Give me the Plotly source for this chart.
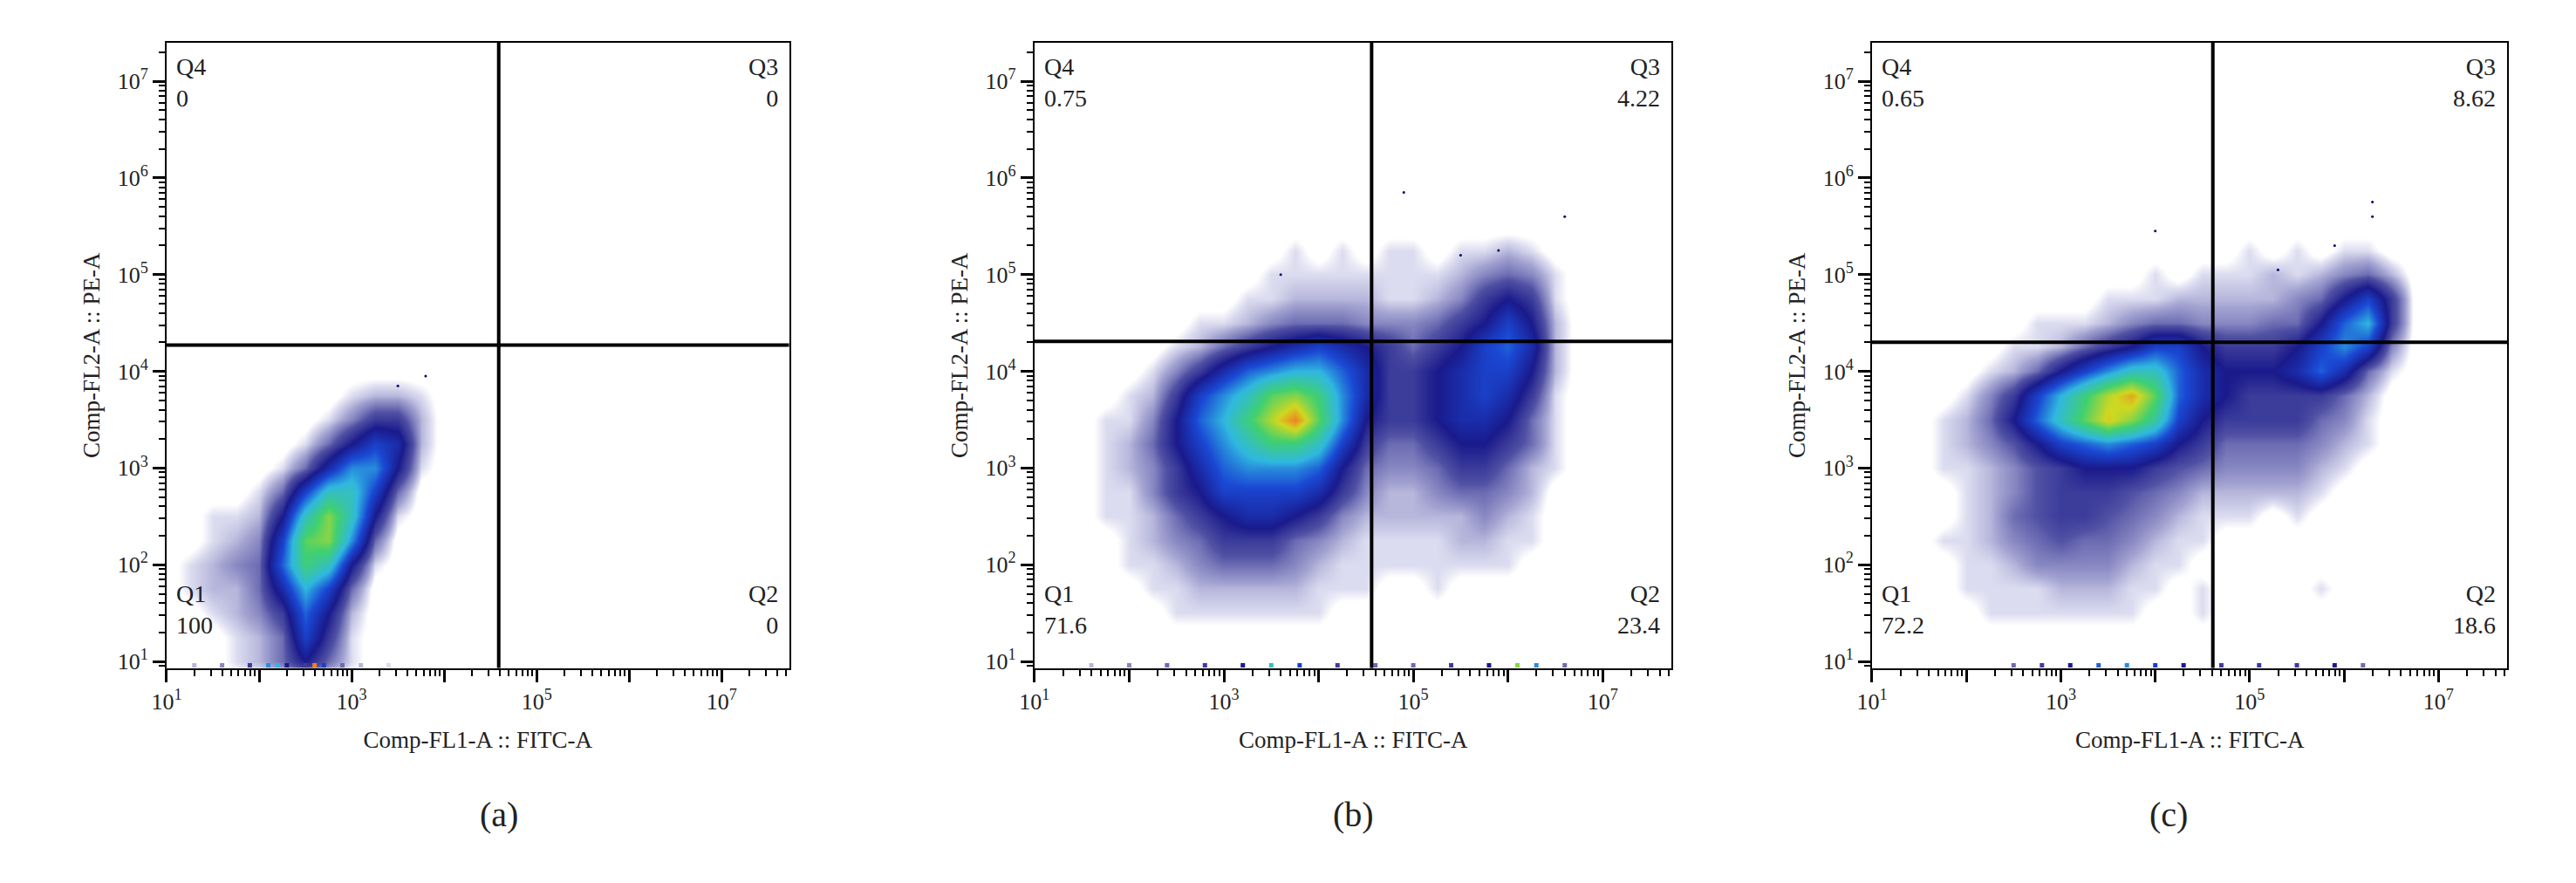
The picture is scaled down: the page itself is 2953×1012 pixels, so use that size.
import numpy as np
import plotly.graph_objects as go

# ── Data (log10 units) ───────────────────────────────────────────────────────
panel_letters = ["(a)", "(b)", "(c)"]
quad_x = [4.59, 4.56, 4.61]          # vertical gate, log10
quad_y = [4.27, 4.31, 4.30]          # horizontal gate, log10
q1_vals = ["100", "71.6", "72.2"]
q2_vals = ["0", "23.4", "18.6"]
q3_vals = ["0", "4.22", "8.62"]
q4_vals = ["0", "0.75", "0.65"]

# panel (a) density grid
a_x = [1.25, 1.5, 1.75, 2.0, 2.25, 2.5, 2.75, 3.0, 3.25, 3.5, 3.75]
a_y = [1.0, 1.25, 1.5, 1.75, 2.0, 2.25, 2.5, 2.75, 3.0, 3.25, 3.5, 3.75]
a_z = [
    [0, 0, 0.3, 0.5, 1, 2, 1, 0.3, 0, 0, 0],
    [0, 0, 0.3, 0.5, 1, 3, 1.5, 0.3, 0, 0, 0],
    [0, 0.3, 0.5, 0.8, 1.5, 3.5, 2, 0.5, 0, 0, 0],
    [0.3, 0.5, 0.5, 1, 2.5, 4.5, 3, 1, 0, 0, 0],
    [0.3, 0.5, 0.8, 1, 3.5, 6, 5, 2, 0.3, 0, 0],
    [0, 0.3, 0.5, 0.8, 3, 6.5, 7, 4, 1, 0, 0],
    [0, 0.3, 0.3, 0.5, 2, 5, 7, 5, 2, 0.3, 0],
    [0, 0, 0, 0.3, 1, 3, 5, 5, 3, 1, 0],
    [0, 0, 0, 0, 0.3, 1, 2.5, 4, 4, 2, 0.3],
    [0, 0, 0, 0, 0, 0.3, 1, 2, 3, 2.5, 0.5],
    [0, 0, 0, 0, 0, 0, 0.3, 0.8, 1.5, 1.5, 0.5],
    [0, 0, 0, 0, 0, 0, 0, 0.3, 0.5, 0.5, 0.3],
]

# panels (b) and (c) share a grid
bc_x = [1.75, 2.0, 2.25, 2.5, 2.75, 3.0, 3.25, 3.5, 3.75, 4.0, 4.25,
        4.5, 4.75, 5.0, 5.25, 5.5, 5.75, 6.0, 6.25, 6.5, 6.75]
bc_y = [1.5, 1.75, 2.0, 2.25, 2.5, 2.75, 3.0, 3.25, 3.5, 3.75, 4.0,
        4.25, 4.5, 4.75, 5.0, 5.25]
b_z = [
    [0, 0, 0, 0.3, 0.3, 0.3, 0.3, 0.3, 0.3, 0.3, 0, 0, 0, 0, 0, 0, 0, 0, 0, 0, 0],
    [0, 0, 0.3, 0.3, 0.5, 0.5, 0.5, 0.5, 0.5, 0.3, 0.3, 0.3, 0, 0, 0.3, 0, 0, 0, 0, 0, 0],
    [0, 0.3, 0.3, 0.5, 0.8, 1, 1, 1, 0.8, 0.5, 0.3, 0.3, 0.3, 0.3, 0.3, 0.3, 0.3, 0.3, 0, 0, 0],
    [0, 0.3, 0.5, 0.8, 1, 1.5, 1.5, 1.5, 1, 0.8, 0.5, 0.3, 0.3, 0.3, 0.3, 0.5, 0.5, 0.3, 0.3, 0, 0],
    [0.3, 0.3, 0.5, 1, 1.5, 2, 2.5, 2.5, 2, 1.5, 0.8, 0.5, 0.5, 0.5, 0.5, 0.5, 0.8, 0.5, 0.3, 0, 0],
    [0.3, 0.3, 0.8, 1.5, 2, 3, 3, 3, 3, 2.5, 1.5, 0.8, 0.5, 0.5, 0.8, 1, 1, 0.8, 0.5, 0, 0],
    [0.3, 0.5, 0.8, 1.5, 2.5, 3.5, 4, 4, 4, 3.5, 2, 1, 0.8, 0.8, 1, 1.5, 1.5, 1, 0.5, 0.3, 0],
    [0.3, 0.5, 1, 2, 3, 4, 5, 6, 6, 5, 3, 1.5, 1, 1, 1.5, 2, 2, 1.5, 1, 0.3, 0],
    [0.3, 0.3, 0.8, 2, 3.5, 4.5, 6, 7.5, 9, 6.5, 4, 2, 1.5, 1.5, 2, 2.5, 2.5, 2, 1, 0.3, 0],
    [0, 0.3, 0.5, 1.5, 3, 4, 5, 6.5, 7, 6, 4, 2.5, 1.5, 1.5, 2, 2.5, 3, 2.5, 1.5, 0.3, 0],
    [0, 0, 0.3, 0.8, 1.5, 2.5, 3.5, 4, 4.5, 4.5, 3.5, 2.5, 1.5, 1.5, 2, 2.5, 3, 3, 2, 0.5, 0],
    [0, 0, 0, 0.3, 0.5, 1, 1.5, 2, 2.5, 3, 2.5, 2, 1.5, 1, 1.5, 2, 3, 3.5, 2.5, 0.5, 0],
    [0, 0, 0, 0, 0.3, 0.3, 0.5, 0.8, 1, 1, 1, 0.8, 0.8, 0.8, 1, 1.5, 2, 3, 2, 0.5, 0],
    [0, 0, 0, 0, 0, 0, 0.3, 0.3, 0.5, 0.5, 0.5, 0.5, 0.3, 0.3, 0.5, 0.8, 1.5, 2, 1.5, 0.3, 0],
    [0, 0, 0, 0, 0, 0, 0, 0.3, 0.3, 0.3, 0.3, 0.3, 0.3, 0.3, 0.3, 0.5, 0.8, 1, 0.8, 0.3, 0],
    [0, 0, 0, 0, 0, 0, 0, 0, 0.3, 0, 0.3, 0, 0.3, 0.3, 0, 0.3, 0.3, 0.5, 0.3, 0, 0],
]
c_z = [
    [0, 0, 0.3, 0.3, 0.3, 0.3, 0.3, 0.3, 0.3, 0, 0, 0.3, 0, 0, 0, 0, 0, 0, 0, 0, 0],
    [0, 0.3, 0.3, 0.3, 0.3, 0.5, 0.5, 0.5, 0.3, 0.3, 0, 0.3, 0, 0, 0, 0, 0.3, 0, 0, 0, 0],
    [0, 0.3, 0.3, 0.5, 0.8, 0.8, 0.8, 0.8, 0.5, 0.3, 0.3, 0, 0, 0, 0, 0, 0, 0, 0, 0, 0],
    [0.3, 0.3, 0.5, 0.8, 1, 1.2, 1, 1, 0.8, 0.5, 0.3, 0.3, 0, 0, 0, 0, 0, 0, 0, 0, 0],
    [0, 0.3, 0.5, 1, 1.2, 1.5, 1.5, 1.2, 1, 0.8, 0.5, 0.3, 0.3, 0.3, 0, 0.3, 0, 0, 0, 0, 0],
    [0, 0.3, 0.5, 0.8, 1.2, 1.5, 1.5, 1.5, 1.2, 1, 0.8, 0.5, 0.5, 0.5, 0.5, 0.5, 0.3, 0, 0, 0, 0],
    [0.3, 0.3, 0.5, 0.8, 1.2, 1.5, 2, 2, 2, 1.5, 1.2, 1, 0.8, 0.8, 0.8, 0.8, 0.5, 0.3, 0, 0, 0],
    [0.3, 0.5, 0.8, 1.2, 2, 3, 3.5, 4, 3.5, 3, 2, 1.5, 1, 1, 1, 1, 0.8, 0.5, 0.3, 0, 0],
    [0.3, 0.5, 1, 2, 3.5, 5, 6.5, 8, 7, 5.5, 3, 2, 1.5, 1.5, 1.5, 1.5, 1, 0.8, 0.3, 0, 0],
    [0, 0.3, 0.8, 1.5, 3, 4.5, 6, 7.5, 8.5, 6.5, 3.5, 2.5, 2, 1.5, 1.5, 1.5, 1.5, 1, 0.5, 0, 0],
    [0, 0, 0.3, 0.5, 1, 2, 3, 4, 5, 5, 3.5, 2.5, 2, 2, 2, 2.5, 3.5, 2.5, 1, 0.3, 0],
    [0, 0, 0, 0.3, 0.3, 0.5, 1, 1.5, 2, 3, 3, 2, 1.5, 1.5, 1.5, 2, 3, 4, 3, 0.8, 0],
    [0, 0, 0, 0, 0.3, 0.3, 0.3, 0.5, 0.8, 1, 1, 0.8, 0.8, 0.8, 1, 1, 2, 3.5, 4.5, 1.5, 0],
    [0, 0, 0, 0, 0, 0, 0, 0.3, 0.3, 0.3, 0.5, 0.5, 0.5, 0.5, 0.5, 0.8, 1, 2, 3, 1.5, 0],
    [0, 0, 0, 0, 0, 0, 0, 0, 0, 0.3, 0, 0.3, 0.3, 0.3, 0.5, 0.3, 0.5, 0.8, 1, 0.5, 0],
    [0, 0, 0, 0, 0, 0, 0, 0, 0, 0, 0, 0, 0, 0.3, 0, 0.3, 0, 0.3, 0.3, 0, 0],
]

# events piled on the y-axis floor
floor_x = [
    [1.3, 1.6, 1.9, 2.1, 2.2, 2.3, 2.5, 2.6, 2.7, 2.9, 3.1, 3.4],
    [1.6, 2.0, 2.4, 2.8, 3.2, 3.5, 3.8, 4.2, 4.6, 5.0, 5.4, 5.8, 6.1, 6.3, 6.6],
    [2.5, 2.8, 3.1, 3.4, 3.7, 4.0, 4.3, 4.7, 5.1, 5.5, 5.9, 6.2],
]
floor_v = [
    [0.5, 0.8, 1.5, 4, 4.5, 2, 1.5, 9, 3, 1, 0.5, 0.3],
    [0.5, 0.8, 1, 1.5, 2, 5, 3, 1.5, 1, 1, 1.5, 2, 7, 4, 1],
    [1, 1.5, 2, 3.5, 4, 3, 2, 1.5, 1.5, 1.5, 2, 1],
]

# isolated outliers
out_x = [[3.8, 3.5], [4.9, 6.6, 5.5, 3.6, 5.9], [6.3, 5.9, 4.0, 6.3, 5.3]]
out_y = [[3.95, 3.85], [5.85, 5.6, 5.2, 5.0, 5.25], [5.6, 5.3, 5.45, 5.75, 5.05]]

# ── Figure ───────────────────────────────────────────────────────────────────
x_domains = [[0.0562, 0.2994], [0.3952, 0.6441], [0.7223, 0.9705]]
y_domain = [0.246, 0.9595]
x_range = [1.0, 7.73]
y_range = [0.93, 7.4]
font = "Liberation Serif"
ink = "#222"

cscale = [[0, "white"], [0.015, "white"], [0.03, "#dcdcf0"], [0.06, "#a4a4d2"],
          [0.12, "#5050a4"], [0.2, "#1a1a8c"], [0.32, "#1a48d4"],
          [0.45, "#30b8e0"], [0.62, "#40d070"], [0.78, "#d0d820"],
          [0.9, "#f08020"], [1, "#e02010"]]

decades = list(range(1, 8))
minor = [np.log10(k * 10.0 ** d) for d in range(0, 8) for k in range(2, 10)]
x_text = ["10<sup>%d</sup>" % d if d % 2 else "" for d in decades]
y_text = ["10<sup>%d</sup>" % d for d in decades]


def padded(gx, gy, gz):
    # one empty ring of cells so the smoothed blob fades out to white
    step = 0.25
    px = [gx[0] - step] + list(gx) + [gx[-1] + step]
    py = [gy[0] - step] + list(gy) + [gy[-1] + step]
    return px, py, np.pad(np.array(gz, dtype=float), 1)


grids = [(a_x, a_y, a_z), (bc_x, bc_y, b_z), (bc_x, bc_y, c_z)]

fig = go.Figure()
for i, (gx, gy, gz) in enumerate(grids):
    xa = "x" if i == 0 else "x%d" % (i + 1)
    ya = "y" if i == 0 else "y%d" % (i + 1)
    px, py, pz = padded(gx, gy, gz)
    fig.add_trace(go.Heatmap(x=px, y=py, z=pz, zmin=0, zmax=10, zsmooth="best",
                             colorscale=cscale, showscale=False, xaxis=xa, yaxis=ya,
                             hoverinfo="skip"))
    fig.add_trace(go.Scatter(x=floor_x[i], y=[y_range[0] + 0.03] * len(floor_x[i]),
                             mode="markers", xaxis=xa, yaxis=ya,
                             marker=dict(symbol="square", size=5, color=floor_v[i],
                                         cmin=0, cmax=10, colorscale=cscale),
                             showlegend=False, hoverinfo="skip"))
    fig.add_trace(go.Scatter(x=out_x[i], y=out_y[i], mode="markers", xaxis=xa, yaxis=ya,
                             marker=dict(size=3, color="#00006e"),
                             showlegend=False, hoverinfo="skip"))

    axis_common = dict(showline=True, linecolor="black", linewidth=2, mirror=True,
                       showgrid=False, zeroline=False, ticks="outside",
                       ticklen=14, tickwidth=3, tickcolor="black",
                       tickfont=dict(family=font, size=26, color=ink),
                       minor=dict(tickvals=minor, ticklen=7, tickwidth=1.5,
                                  tickcolor="black", ticks="outside"))
    xkey = "xaxis" if i == 0 else "xaxis%d" % (i + 1)
    ykey = "yaxis" if i == 0 else "yaxis%d" % (i + 1)
    fig.update_layout({
        xkey: dict(axis_common, domain=x_domains[i], range=x_range, anchor=ya,
                   tickvals=decades, ticktext=x_text,
                   title=dict(text="Comp-FL1-A :: FITC-A", standoff=20,
                              font=dict(family=font, size=27, color=ink))),
        ykey: dict(axis_common, domain=y_domain, range=y_range, anchor=xa,
                   tickvals=decades, ticktext=y_text,
                   title=dict(text="Comp-FL2-A :: PE-A", standoff=12,
                              font=dict(family=font, size=27, color=ink))),
    })

    line = dict(color="black", width=4)
    fig.add_shape(type="line", xref=xa, yref=ya, x0=quad_x[i], x1=quad_x[i],
                  y0=y_range[0], y1=y_range[1], line=line)
    fig.add_shape(type="line", xref=xa, yref=ya, x0=x_range[0], x1=x_range[1],
                  y0=quad_y[i], y1=quad_y[i], line=line)

    qfont = dict(family=font, size=28, color=ink)
    xd, yd = xa + " domain", ya + " domain"
    for txt, qx, qy, xanc, yanc in [
        ("Q4<br>" + q4_vals[i], 0.012, 0.985, "left", "top"),
        ("Q3<br>" + q3_vals[i], 0.985, 0.985, "right", "top"),
        ("Q1<br>" + q1_vals[i], 0.012, 0.045, "left", "bottom"),
        ("Q2<br>" + q2_vals[i], 0.985, 0.045, "right", "bottom"),
    ]:
        fig.add_annotation(x=qx, y=qy, xref=xd, yref=yd, text=txt, showarrow=False,
                           xanchor=xanc, yanchor=yanc, align=xanc, font=qfont)

    fig.add_annotation(x=sum(x_domains[i]) / 2, y=0.055, xref="paper", yref="paper",
                       text=panel_letters[i], showarrow=False,
                       font=dict(family=font, size=40, color=ink))

fig.update_layout(width=2953, height=1012, margin=dict(l=0, r=0, t=0, b=0),
                  plot_bgcolor="white", paper_bgcolor="white", showlegend=False)
fig.write_html("out.html")
